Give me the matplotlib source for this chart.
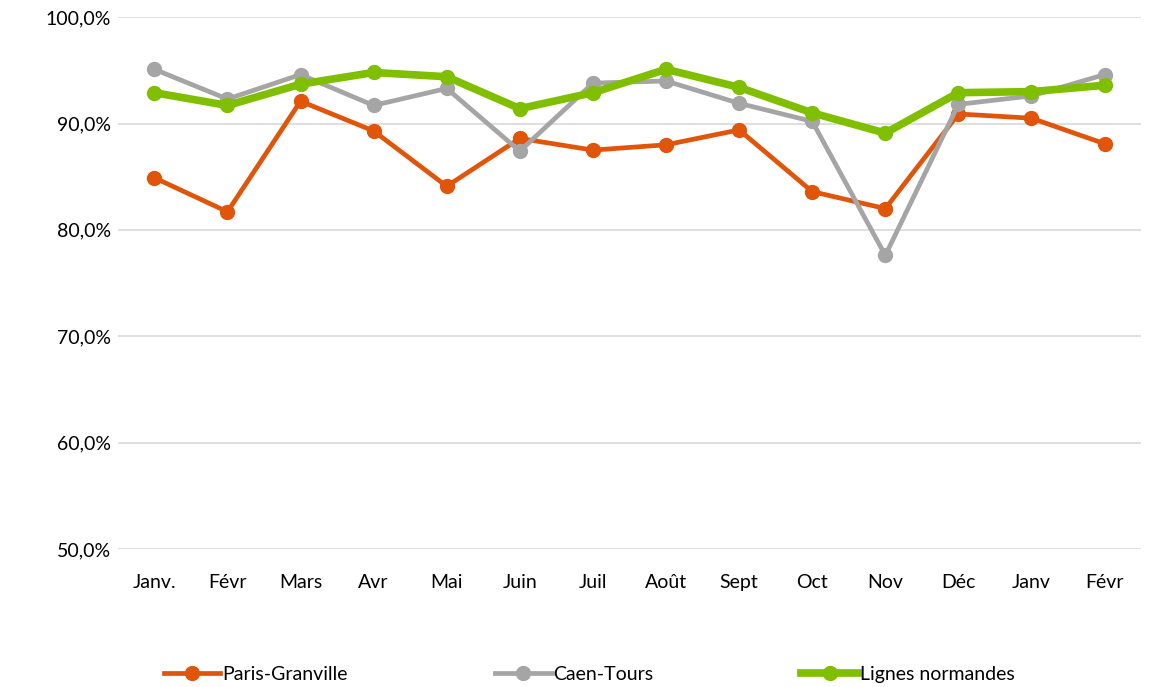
import matplotlib
matplotlib.use("Agg")
import matplotlib.pyplot as plt
from matplotlib.ticker import FuncFormatter

months = ["Janv.", "Févr", "Mars", "Avr", "Mai", "Juin", "Juil", "Août", "Sept", "Oct", "Nov", "Déc", "Janv", "Févr"]
paris_granville = [84.9, 81.7, 92.1, 89.3, 84.1, 88.6, 87.5, 88.0, 89.4, 83.6, 82.0, 90.9, 90.5, 88.1]
caen_tours = [95.1, 92.3, 94.6, 91.7, 93.3, 87.4, 93.8, 94.0, 91.9, 90.2, 77.6, 91.8, 92.6, 94.6]
lignes_normandes = [92.9, 91.7, 93.7, 94.8, 94.4, 91.4, 92.9, 95.1, 93.4, 91.0, 89.1, 92.9, 93.0, 93.6]

plt.rcParams['font.family'] = ['Lato', 'DejaVu Sans']

fig = plt.figure(figsize=(11.55, 6.87), dpi=100)
ax = fig.add_axes([0.102, 0.201, 0.886, 0.774])

x = list(range(len(months)))
ax.plot(x, paris_granville, color="#E1550A", lw=3.4, marker="o", ms=10, label="Paris-Granville", zorder=3)
ax.plot(x, caen_tours, color="#A5A5A5", lw=3.4, marker="o", ms=10, label="Caen-Tours", zorder=4)
ax.plot(x, lignes_normandes, color="#7FBF00", lw=5.5, marker="o", ms=10, label="Lignes normandes", zorder=5)

ax.set_ylim(50, 100)
ax.set_xlim(-0.5, len(months) - 0.5)
ax.set_yticks([50, 60, 70, 80, 90, 100])
ax.yaxis.set_major_formatter(FuncFormatter(lambda v, p: f"{v:.1f}%".replace(".", ",")))
ax.set_xticks(x)
ax.set_xticklabels(months)
ax.grid(axis="y", color="#D9D9D9", lw=1.2)
ax.set_axisbelow(True)
for s in ax.spines.values():
    s.set_visible(False)
ax.tick_params(length=0, labelsize=14, colors="black")
ax.tick_params(axis="x", pad=18)
ax.tick_params(axis="y", pad=5)

fig.legend(loc="lower center", bbox_to_anchor=(0.51, -0.02), ncol=3, frameon=False,
           fontsize=14, handlelength=2.9, columnspacing=7.6, handletextpad=0.1)

fig.savefig("out.png", dpi=100)
